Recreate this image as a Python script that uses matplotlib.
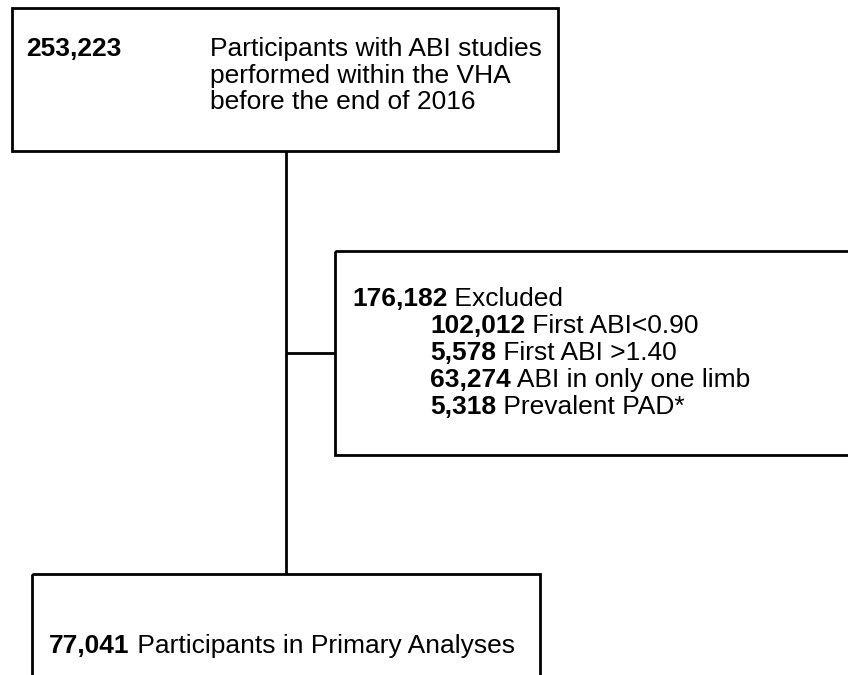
import matplotlib.pyplot as plt
from matplotlib.patches import Rectangle

plt.rcParams['font.family'] = ['Liberation Sans', 'DejaVu Sans']

# Flow counts and labels
start_n = "253,223"
start_lines = ["Participants with ABI studies",
               "performed within the VHA",
               "before the end of 2016"]
excluded_n = "176,182"
excluded_label = "Excluded"
reason_n = ["102,012", "5,578", "63,274", "5,318"]
reason_labels = ["First ABI<0.90", "First ABI >1.40",
                 "ABI in only one limb", "Prevalent PAD*"]
final_n = "77,041"
final_label = "Participants in Primary Analyses"

W, H = 848, 675
FS = 19
LW = 2.0

fig = plt.figure(figsize=(W / 100, H / 100), dpi=100)
ax = fig.add_axes([0, 0, 1, 1])
ax.set_xlim(0, W)
ax.set_ylim(H, 0)
ax.axis('off')


def box(x0, y0, x1, y1):
    ax.add_patch(Rectangle((x0, y0), x1 - x0, y1 - y0, fill=False,
                           edgecolor='black', lw=LW, clip_on=True))


def bold_then_plain(x, y, num, label):
    t = ax.text(x, y, num, fontsize=FS, fontweight='bold', va='center', ha='left')
    fig.canvas.draw()
    bb = t.get_window_extent()
    ax.text(bb.x1, y, " " + label, fontsize=FS, va='center', ha='left')


# boxes
box(12, 8, 558, 151)
box(335, 251, 870, 455)
box(32, 574, 540, 700)

# connectors
ax.plot([286, 286], [151, 574], color='black', lw=LW, solid_capstyle='butt')
ax.plot([286, 335], [353, 353], color='black', lw=LW, solid_capstyle='butt')

# top box text
ax.text(26, 49, start_n, fontsize=FS, fontweight='bold', va='center', ha='left')
for i, line in enumerate(start_lines):
    ax.text(210, 49 + i * 26.5, line, fontsize=FS, va='center', ha='left')

# exclusion text
bold_then_plain(352, 299, excluded_n, excluded_label)
for i, (n, lab) in enumerate(zip(reason_n, reason_labels)):
    bold_then_plain(430, 326 + i * 27, n, lab)

# final box text
bold_then_plain(49, 646, final_n, final_label)

fig.savefig('out.png', dpi=100)
